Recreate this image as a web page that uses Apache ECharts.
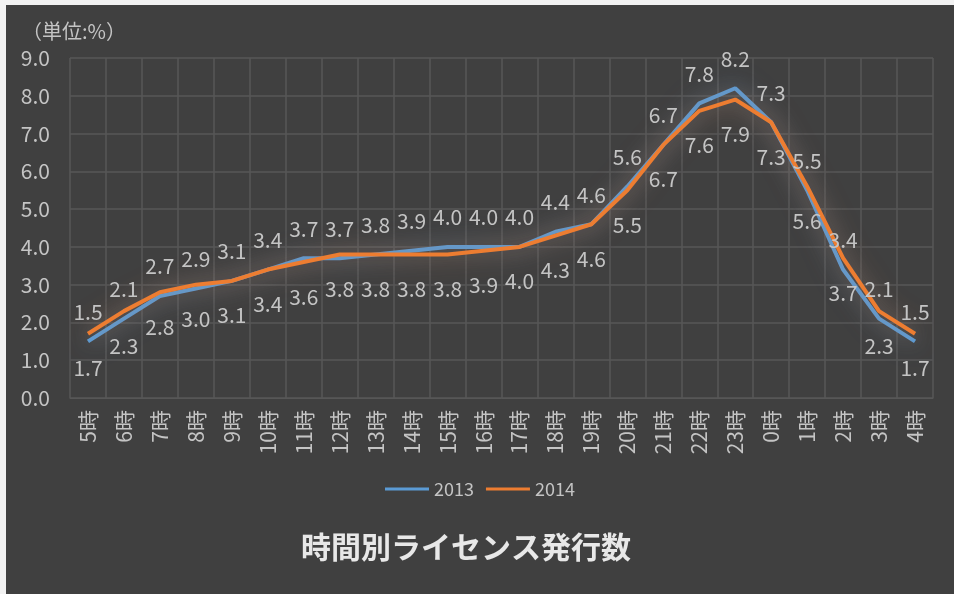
<!DOCTYPE html>
<html>
<head>
<meta charset="utf-8">
<script src="https://cdn.jsdelivr.net/npm/echarts@6/dist/echarts.min.js"></script>
<style>
  html, body { margin: 0; padding: 0; background: #f2f2f2; }
  #chart { position: absolute; left: 6px; top: 5px; width: 948px; height: 589px; background: #404040; }
</style>
</head>
<body>
<div id="chart"></div>
<script>
// region データ
const hours = ['5時', '6時', '7時', '8時', '9時', '10時', '11時', '12時', '13時', '14時', '15時', '16時',
  '17時', '18時', '19時', '20時', '21時', '22時', '23時', '0時', '1時', '2時', '3時', '4時']
const data2013 = [1.5, 2.1, 2.7, 2.9, 3.1, 3.4, 3.7, 3.7, 3.8, 3.9, 4.0, 4.0,
  4.0, 4.4, 4.6, 5.6, 6.7, 7.8, 8.2, 7.3, 5.5, 3.4, 2.1, 1.5]
const data2014 = [1.7, 2.3, 2.8, 3.0, 3.1, 3.4, 3.6, 3.8, 3.8, 3.8, 3.8, 3.9,
  4.0, 4.3, 4.6, 5.5, 6.7, 7.6, 7.9, 7.3, 5.6, 3.7, 2.3, 1.7]
const seriesNames = ['2013', '2014']
const chartTitle = '時間別ライセンス発行数'
const unitText = '（単位:%）'
// endregion

const font = '"Noto Sans CJK JP", "Noto Sans", sans-serif'
const labelColor = '#c4c4c4'
const gridColor = '#575757'

const chart = echarts.init(document.getElementById('chart'))

// 2013 はラベル上、2014 はラベル下
const makeSeries = (name, data, color, glow, pos, distance) => ({
  name,
  type: 'line',
  data,
  symbol: 'circle',
  symbolSize: 0.1,
  showSymbol: true,
  lineStyle: {
    width: 4,
    color,
    shadowBlur: 24,
    shadowColor: glow,
  },
  itemStyle: { color },
  label: {
    show: true,
    position: pos,
    distance,
    color: labelColor,
    fontSize: 21,
    fontFamily: font,
    formatter: (p) => p.value.toFixed(1),
  },
  labelLayout: { hideOverlap: false },
  animation: false,
})

chart.setOption({
  textStyle: { fontFamily: font },
  title: {
    text: chartTitle,
    left: 290,
    top: 522,
    textStyle: { color: '#e8e8e8', fontSize: 30, fontWeight: 'bold', fontFamily: font },
  },
  legend: {
    data: seriesNames,
    left: 374,
    top: 470,
    icon: 'rect',
    itemWidth: 44,
    itemHeight: 3,
    itemGap: 12,
    textStyle: { color: labelColor, fontSize: 18, fontFamily: font },
  },
  graphic: [
    {
      type: 'text',
      left: 16,
      top: 16,
      style: { text: unitText, fill: labelColor, fontSize: 20, fontFamily: font },
    },
  ],
  grid: {
    left: 64,
    right: 21,
    top: 53,
    bottom: 196,
  },
  xAxis: {
    type: 'category',
    data: hours,
    boundaryGap: true,
    axisLine: { show: true, lineStyle: { color: gridColor } },
    axisTick: { show: false },
    splitLine: { show: true, lineStyle: { color: gridColor, width: 1.5 } },
    axisLabel: {
      rotate: 90,
      interval: 0,
      margin: 12,
      color: labelColor,
      fontSize: 21,
      fontFamily: font,
    },
  },
  yAxis: {
    type: 'value',
    min: 0,
    max: 9,
    interval: 1,
    axisLine: { show: false },
    axisTick: { show: false },
    splitLine: { lineStyle: { color: gridColor, width: 1.5 } },
    axisLabel: {
      margin: 20,
      color: labelColor,
      fontSize: 21,
      fontFamily: font,
      formatter: (v) => v.toFixed(1),
    },
  },
  series: [
    makeSeries(seriesNames[0], data2013, '#5b9bd5', 'rgba(91,155,213,0.75)', 'top', 19),
    makeSeries(seriesNames[1], data2014, '#ed7d31', 'rgba(237,125,49,0.65)', 'bottom', 24),
  ],
})
</script>
</body>
</html>
